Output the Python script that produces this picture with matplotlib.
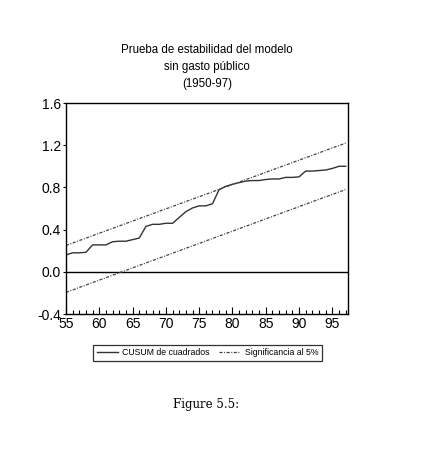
import numpy as np
import matplotlib
matplotlib.use("Agg")
import matplotlib.pyplot as plt
from matplotlib.ticker import FixedLocator

# -----------------------------
# Data
# -----------------------------
years = np.arange(1955, 1998)
cusum_sq = [0.16, 0.18, 0.18, 0.185, 0.255, 0.255, 0.255, 0.285, 0.29, 0.29,
            0.305, 0.32, 0.43, 0.45, 0.45, 0.46, 0.46, 0.515, 0.57, 0.605,
            0.625, 0.625, 0.645, 0.78, 0.81, 0.83, 0.845, 0.86, 0.865, 0.865,
            0.875, 0.88, 0.88, 0.895, 0.895, 0.90, 0.955, 0.955, 0.96, 0.965,
            0.98, 1.0, 1.0]
bound_years = [1955, 1997]
upper_bound = [0.25, 1.22]
lower_bound = [-0.195, 0.78]

y_ticks = [-0.4, 0.0, 0.4, 0.8, 1.2, 1.6]
x_ticks = [1955, 1960, 1965, 1970, 1975, 1980, 1985, 1990, 1995]
x_labels = ["55", "60", "65", "70", "75", "80", "85", "90", "95"]

plt.rcParams["font.family"] = ["Liberation Sans", "DejaVu Sans"]

fig = plt.figure(figsize=(4.31, 4.57), dpi=100)
ax = fig.add_axes([0.1531, 0.3129, 0.6543, 0.4617])

ax.axhline(0, color="black", lw=1.0, zorder=1)
line1, = ax.plot(years, cusum_sq, color="#333333", lw=1.0,
                 label="CUSUM de cuadrados")
line2, = ax.plot(bound_years, upper_bound, color="#444444", lw=0.9,
                 ls=(0, (2.5, 1.2, 0.8, 1.2)), label="Significancia al 5%")
ax.plot(bound_years, lower_bound, color="#444444", lw=0.9,
        ls=(0, (2.5, 1.2, 0.8, 1.2)))

ax.set_xlim(1955, 1997.35)
ax.set_ylim(-0.4, 1.6)
ax.set_yticks(y_ticks)
ax.set_yticklabels([f"{v:.1f}" for v in y_ticks])
ax.set_xticks(x_ticks)
ax.set_xticklabels(x_labels)
ax.xaxis.set_minor_locator(FixedLocator(list(years)))

ax.tick_params(axis="x", which="major", direction="in", length=5,
               width=0.8, labelsize=10, pad=2, top=False)
ax.tick_params(axis="x", which="minor", direction="in", length=3,
               width=0.8, top=False)
ax.tick_params(axis="y", which="major", direction="out", length=2.5,
               width=0.8, labelsize=10, pad=1, right=False)
for s in ax.spines.values():
    s.set_linewidth(1.0)

fig.text(0.481, 0.853, "Prueba de estabilidad del modelo\nsin gasto público\n(1950-97)",
         ha="center", va="center", fontsize=8.3, linespacing=1.55)

leg = fig.legend(handles=[line1, line2], loc="center",
                 bbox_to_anchor=(0.4814, 0.2276), ncol=2, fontsize=6.3,
                 frameon=True, fancybox=False, edgecolor="black",
                 handlelength=2.4, handletextpad=0.5, columnspacing=1.1,
                 borderpad=0.45, borderaxespad=0)
leg.get_frame().set_linewidth(0.9)

fig.text(0.478, 0.114, "Figure 5.5:", ha="center", va="center",
         fontsize=8.5, family=["DejaVu Serif"])

fig.savefig("out.png", dpi=100)
